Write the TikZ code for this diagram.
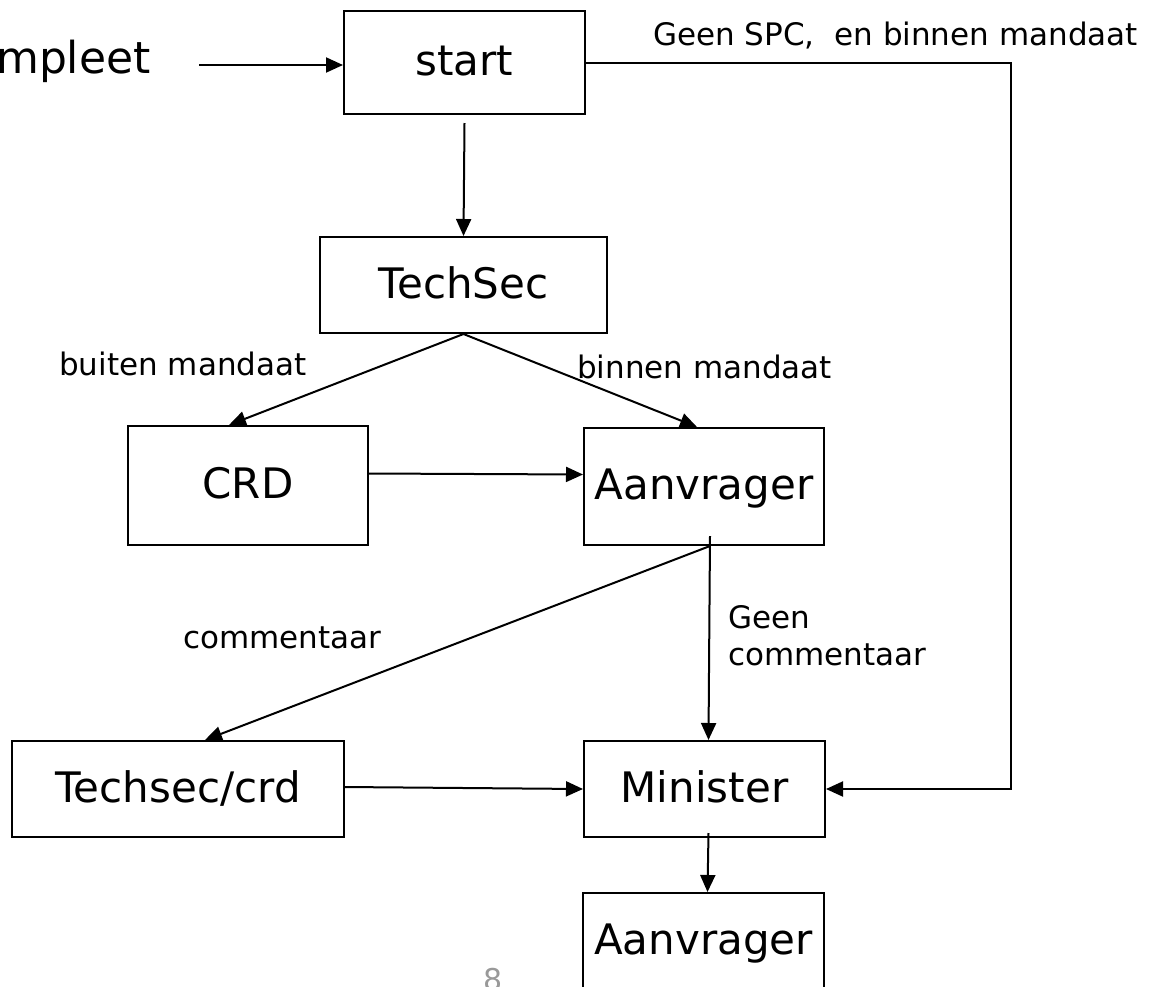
\documentclass[tikz,border=0pt]{standalone}
\usepackage{fontspec}
\setmainfont{DejaVu Sans}
\usetikzlibrary{arrows.meta}
\tikzset{
  box/.style={draw, line width=2pt, rectangle, inner sep=0pt, font=\fontsize{42}{50}\selectfont, text height=30pt, text depth=4pt},
  big/.style={inner sep=0pt, font=\fontsize{42}{50}\selectfont},
  lbl/.style={inner sep=0pt, font=\fontsize{31}{37}\selectfont},
  arr/.style={line width=2pt, -{Triangle[length=17pt,width=15pt]}}
}
\begin{document}
\begin{tikzpicture}[x=1pt,y=-1pt]
\useasboundingbox (0,0) rectangle (1160,986);
\clip (0,0) rectangle (1160,986);
\fill[white] (0,0) rectangle (1160,986);

% boxes
\node[box, minimum width=241pt, minimum height=103pt] (start) at (464.5,62.5) {start};
\node[box, minimum width=287pt, minimum height=96pt] (techsec) at (463.5,285) {TechSec};
\node[box, minimum width=240pt, minimum height=119pt] (crd) at (248,485.5) {CRD};
\node[box, minimum width=240pt, minimum height=117pt] (aanv1) at (704,486.5) {Aanvrager};
\node[box, minimum width=332pt, minimum height=96pt] (tcrd) at (178,789) {Techsec/crd};
\node[box, minimum width=241pt, minimum height=96pt] (minister) at (704.5,789) {Minister};
\node[box, minimum width=241pt, minimum height=97pt] (aanv2) at (703.5,941.5) {Aanvrager};

% texts
\node[inner sep=0pt, font=\fontsize{44}{52}\selectfont, anchor=base west] (mp) at (-4,73) {mpleet};
\node[lbl, anchor=base west] (spc) at (653,45) {Geen SPC,\ \ en binnen mandaat};
\node[lbl, anchor=base west] (buiten) at (59,375) {buiten mandaat};
\node[lbl, anchor=base west] (binnen) at (577,378) {binnen mandaat};
\node[lbl, anchor=base west] (comm) at (183,648) {commentaar};
\node[lbl, anchor=base west] (geen) at (728,628) {Geen};
\node[lbl, anchor=base west] (geencomm) at (728,665) {commentaar};
\node[inner sep=0pt, anchor=base west, text=black!40, font=\fontsize{30}{36}\selectfont] (page) at (483,990) {8};

% connectors
\coordinate (in) at (199,65);
\draw[arr] (in) -- (in -| start.west);
\draw[arr] ([yshift=-8pt]start.south) -- (techsec.north);
\coordinate (r1) at (1011,61);
\draw[arr] (start.east) -- (r1 |- start.east) |- (minister.east);
\draw[arr] (techsec.south) -- ([xshift=-19pt]crd.north);
\draw[arr] (techsec.south) -- ([xshift=-7pt]aanv1.north);
\draw[arr] ([yshift=12pt]crd.east) -- ([yshift=12pt]aanv1.west);
\draw[arr] ([xshift=6pt,yshift=10pt]aanv1.south) -- ([xshift=4pt]minister.north);
\draw[arr] ([xshift=6pt]aanv1.south) -- ([xshift=27pt]tcrd.north);
\draw[arr] ([yshift=2pt]tcrd.east) -- (minister.west);
\draw[arr] ([xshift=4pt,yshift=5pt]minister.south) -- ([xshift=4pt]aanv2.north);
\end{tikzpicture}
\end{document}
